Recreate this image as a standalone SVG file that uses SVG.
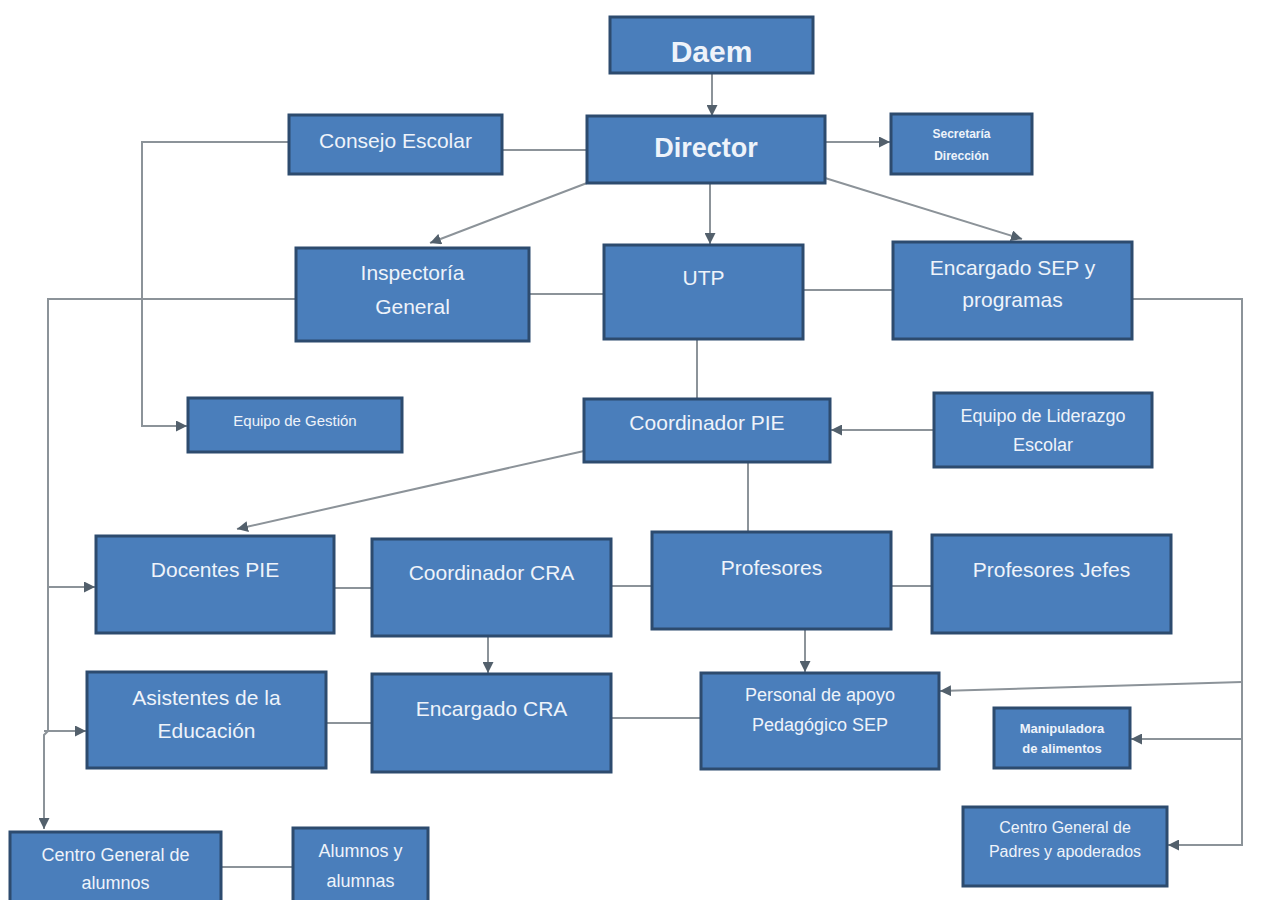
<svg xmlns="http://www.w3.org/2000/svg" width="1270" height="900" viewBox="0 0 1270 900">
<style>
.b{fill:#4a7ebb;stroke:#2d4b6e;stroke-width:3}
.t{font-family:"Liberation Sans",Arial,sans-serif;font-size:21px;fill:#eef3fa;text-anchor:middle}
.s{font-size:12px;font-weight:bold}
.m{font-size:18px}
.n{font-size:16px}
.c{fill:none;stroke:#8c9399;stroke-width:2}
</style>
<defs>
<marker id="a" viewBox="0 0 10 10" refX="10" refY="5" markerWidth="11" markerHeight="11" markerUnits="userSpaceOnUse" orient="auto">
<path d="M0,0 L10,5 L0,10 z" fill="#53606c"/>
</marker>
</defs>
<rect width="1270" height="900" fill="#ffffff"/>
<g id="connectors">
<line class="c" x1="712" y1="73" x2="712" y2="116" marker-end="url(#a)"/>
<line class="c" x1="825" y1="142" x2="890" y2="142" marker-end="url(#a)"/>
<line class="c" x1="502" y1="150" x2="587" y2="150"/>
<polyline class="c" points="289,142 142,142 142,426 187,426" marker-end="url(#a)"/>
<line class="c" x1="587" y1="183" x2="430" y2="243" marker-end="url(#a)"/>
<line class="c" x1="710" y1="183" x2="710" y2="244" marker-end="url(#a)"/>
<line class="c" x1="825" y1="178" x2="1022" y2="239" marker-end="url(#a)"/>
<line class="c" x1="529" y1="294" x2="604" y2="294"/>
<line class="c" x1="803" y1="290" x2="893" y2="290"/>
<polyline class="c" points="296,299 48,299 48,731 44,735 44,829" marker-end="url(#a)"/>
<line class="c" x1="48" y1="587" x2="95" y2="587" marker-end="url(#a)"/>
<line class="c" x1="44" y1="731" x2="86" y2="731" marker-end="url(#a)"/>
<polyline class="c" points="1132,299 1242,299 1242,845 1168,845" marker-end="url(#a)"/>
<line class="c" x1="1242" y1="682" x2="940" y2="691" marker-end="url(#a)"/>
<line class="c" x1="1242" y1="739" x2="1131" y2="739" marker-end="url(#a)"/>
<line class="c" x1="697" y1="339" x2="697" y2="399"/>
<line class="c" x1="934" y1="430" x2="831" y2="430" marker-end="url(#a)"/>
<line class="c" x1="584" y1="451" x2="237" y2="529" marker-end="url(#a)"/>
<line class="c" x1="748" y1="462" x2="748" y2="532"/>
<line class="c" x1="334" y1="588" x2="372" y2="588"/>
<line class="c" x1="611" y1="586" x2="652" y2="586"/>
<line class="c" x1="891" y1="586" x2="932" y2="586"/>
<line class="c" x1="488" y1="636" x2="488" y2="673" marker-end="url(#a)"/>
<line class="c" x1="805" y1="629" x2="805" y2="672" marker-end="url(#a)"/>
<line class="c" x1="326" y1="723" x2="372" y2="723"/>
<line class="c" x1="611" y1="718" x2="701" y2="718"/>
<line class="c" x1="221" y1="867" x2="293" y2="867"/>
</g>
<g id="daem"><rect class="b" x="610" y="17" width="203" height="56"/><text class="t" x="711.5" y="62" style="font-size:30px;font-weight:bold">Daem</text></g>
<g id="director"><rect class="b" x="587" y="116" width="238" height="67"/><text class="t" x="706" y="157" style="font-size:27px;font-weight:bold">Director</text></g>
<g id="consejo"><rect class="b" x="289" y="115" width="213" height="59"/><text class="t" x="395.5" y="148">Consejo Escolar</text></g>
<g id="secretaria"><rect class="b" x="891" y="114" width="141" height="60"/><text class="t s" x="961.5" y="138">Secretaría</text><text class="t s" x="961.5" y="160">Dirección</text></g>
<g id="inspectoria"><rect class="b" x="296" y="248" width="233" height="93"/><text class="t" x="412.5" y="280">Inspectoría</text><text class="t" x="412.5" y="314">General</text></g>
<g id="utp"><rect class="b" x="604" y="245" width="199" height="94"/><text class="t" x="703.5" y="285">UTP</text></g>
<g id="encargado-sep"><rect class="b" x="893" y="242" width="239" height="97"/><text class="t" x="1012.5" y="275">Encargado SEP y</text><text class="t" x="1012.5" y="307">programas</text></g>
<g id="equipo-gestion"><rect class="b" x="188" y="398" width="214" height="54"/><text class="t" x="295" y="426" style="font-size:15px">Equipo de Gestión</text></g>
<g id="coordinador-pie"><rect class="b" x="584" y="399" width="246" height="63"/><text class="t" x="707" y="430">Coordinador PIE</text></g>
<g id="equipo-liderazgo"><rect class="b" x="934" y="393" width="218" height="74"/><text class="t m" x="1043" y="422">Equipo de Liderazgo</text><text class="t m" x="1043" y="451">Escolar</text></g>
<g id="docentes-pie"><rect class="b" x="96" y="536" width="238" height="97"/><text class="t" x="215" y="577">Docentes PIE</text></g>
<g id="coordinador-cra"><rect class="b" x="372" y="539" width="239" height="97"/><text class="t" x="491.5" y="580">Coordinador CRA</text></g>
<g id="profesores"><rect class="b" x="652" y="532" width="239" height="97"/><text class="t" x="771.5" y="575">Profesores</text></g>
<g id="profesores-jefes"><rect class="b" x="932" y="535" width="239" height="98"/><text class="t" x="1051.5" y="577">Profesores Jefes</text></g>
<g id="asistentes"><rect class="b" x="87" y="672" width="239" height="96"/><text class="t" x="206.5" y="705">Asistentes de la</text><text class="t" x="206.5" y="738">Educación</text></g>
<g id="encargado-cra"><rect class="b" x="372" y="674" width="239" height="98"/><text class="t" x="491.5" y="716">Encargado CRA</text></g>
<g id="personal-apoyo"><rect class="b" x="701" y="673" width="238" height="96"/><text class="t m" x="820" y="701">Personal de apoyo</text><text class="t m" x="820" y="731">Pedagógico SEP</text></g>
<g id="manipuladora"><rect class="b" x="994" y="708" width="136" height="60"/><text class="t" x="1062" y="733" style="font-size:13px;font-weight:bold">Manipuladora</text><text class="t" x="1062" y="753" style="font-size:13px;font-weight:bold">de alimentos</text></g>
<g id="centro-padres"><rect class="b" x="963" y="807" width="204" height="79"/><text class="t n" x="1065" y="833">Centro General de</text><text class="t n" x="1065" y="857">Padres y apoderados</text></g>
<g id="centro-alumnos"><rect class="b" x="10" y="832" width="211" height="75"/><text class="t m" x="115.5" y="861">Centro General de</text><text class="t m" x="115.5" y="889">alumnos</text></g>
<g id="alumnos"><rect class="b" x="293" y="828" width="135" height="79"/><text class="t m" x="360.5" y="857">Alumnos y</text><text class="t m" x="360.5" y="887">alumnas</text></g>
</svg>
